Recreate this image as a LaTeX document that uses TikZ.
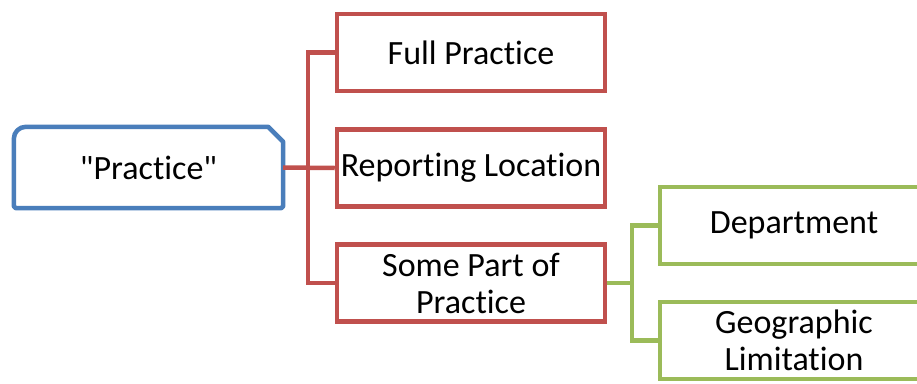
\documentclass[tikz,border=0pt]{standalone}
\usepackage{fontspec}
\setmainfont[Ligatures={NoCommon}]{Carlito}
\usetikzlibrary{positioning}

\definecolor{rootblue}{HTML}{4A7EBB}
\definecolor{levelred}{HTML}{C0504D}
\definecolor{levelgreen}{HTML}{9BBB59}

\begin{document}
\begin{tikzpicture}[
    x=1pt, y=-1pt,
    font=\fontsize{34}{37}\selectfont,
    box/.style={draw, fill=white, line width=4.5pt, align=center, minimum width=268pt, minimum height=77pt, inner sep=0pt},
    redbox/.style={box, draw=levelred},
    greenbox/.style={box, draw=levelgreen},
    redlink/.style={draw=levelred, line width=4.5pt},
    greenlink/.style={draw=levelgreen, line width=4.5pt},
  ]

  % Frame of the picture (green column runs off the right and bottom edges)
  \useasboundingbox (0,0) rectangle (917,383);
  \clip (0,0) rectangle (917,383);

  % Column x-positions
  \def\xroot{148.5}  \def\xmid{471}  \def\xright{794}

  % Root node: rounded top-left, cut top-right corner
  \node[minimum width=269pt, minimum height=81pt, inner sep=0pt] (practice) at (\xroot,167.5) {};
  \draw[draw=rootblue, fill=white, line width=4.5pt, line join=round]
    ([yshift=-12pt]practice.north west) arc[start angle=180, end angle=90, radius=12pt]
    -- ([xshift=-15pt]practice.north east) -- ([yshift=-15pt]practice.north east)
    -- ([yshift=2pt]practice.south east) -- ([xshift=-2pt]practice.south east)
    -- ([xshift=2pt]practice.south west) -- ([yshift=2pt]practice.south west) -- cycle;
  \node at (practice) {\textquotedbl Practice\textquotedbl};

  % Second level
  \node[redbox] (full) at (\xmid,52.5) {Full Practice};
  \node[redbox] (rep)  at (\xmid,168)  {Reporting Location};
  \node[redbox] (part) at (\xmid,283)  {Some Part of\\ Practice};

  % Third level
  \node[greenbox] (dept) at (\xright,225.5) {Department};
  \node[greenbox] (geo)  at (\xright,340.5) {Geographic\\ Limitation};

  % Red connectors
  \draw[redlink] (practice.east) -- (rep.west);
  \draw[redlink] (full.west) -- ++(-27,0) |- (part.west);

  % Green connectors
  \draw[greenlink] (part.east) -- ++(25,0);
  \draw[greenlink] (dept.west) -- ++(-26,0) |- (geo.west);

\end{tikzpicture}
\end{document}
